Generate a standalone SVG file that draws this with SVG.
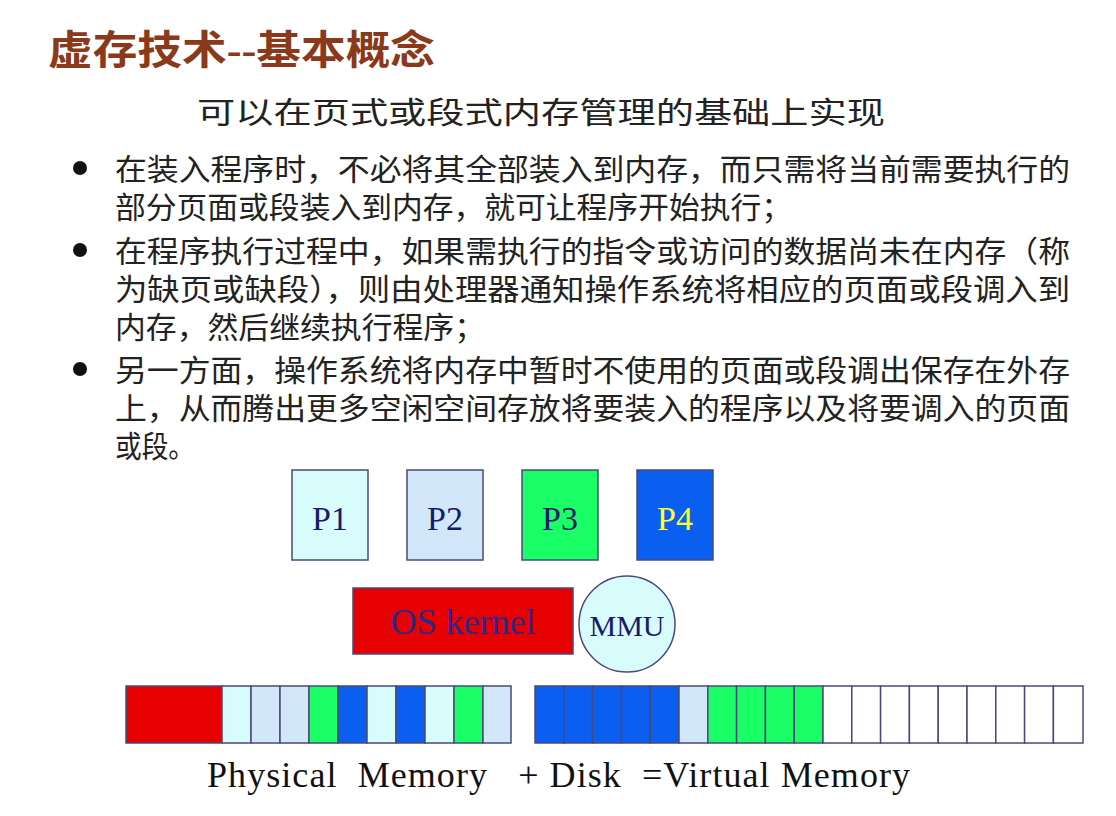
<svg xmlns="http://www.w3.org/2000/svg" width="1116" height="816" viewBox="0 0 1116 816">
<style>
.cn{font-family:"Liberation Sans","Noto Sans CJK SC",sans-serif;font-size:30px;fill:#222}
.sr{font-family:"Liberation Serif",serif}
.c{stroke:#4a4a7a;stroke-width:1.5}
.r{fill:#e60000}.lc{fill:#d8fcfc}.pb{fill:#d2e8fa}.g{fill:#1aff66}.b{fill:#0a5ef0}.w{fill:#fff}
</style>
<rect width="1116" height="816" fill="#fff"/>
<text x="48" y="64" font-family="'Liberation Serif','Noto Sans CJK SC',serif" font-size="40" font-weight="bold" fill="#8a3a1a" textLength="387" lengthAdjust="spacingAndGlyphs">虚存技术--基本概念</text>
<text x="197" y="123" class="cn" font-size="34" textLength="688" lengthAdjust="spacingAndGlyphs">可以在页式或段式内存管理的基础上实现</text>
<g class="cn">
<circle cx="80" cy="168" r="7" fill="#111"/>
<text x="115" y="180" textLength="955" lengthAdjust="spacingAndGlyphs">在装入程序时，不必将其全部装入到内存，而只需将当前需要执行的</text>
<text x="115" y="218" textLength="677" lengthAdjust="spacingAndGlyphs">部分页面或段装入到内存，就可让程序开始执行；</text>
<circle cx="80" cy="250" r="7" fill="#111"/>
<text x="115" y="262" textLength="955" lengthAdjust="spacingAndGlyphs">在程序执行过程中，如果需执行的指令或访问的数据尚未在内存（称</text>
<text x="115" y="300" textLength="955" lengthAdjust="spacingAndGlyphs">为缺页或缺段），则由处理器通知操作系统将相应的页面或段调入到</text>
<text x="115" y="338" textLength="370" lengthAdjust="spacingAndGlyphs">内存，然后继续执行程序；</text>
<circle cx="80" cy="369" r="7" fill="#111"/>
<text x="115" y="381" textLength="955" lengthAdjust="spacingAndGlyphs">另一方面，操作系统将内存中暂时不使用的页面或段调出保存在外存</text>
<text x="115" y="419" textLength="955" lengthAdjust="spacingAndGlyphs">上，从而腾出更多空闲空间存放将要装入的程序以及将要调入的页面</text>
<text x="115" y="457" textLength="80" lengthAdjust="spacingAndGlyphs">或段。</text>
</g>
<g id="p1"><rect x="292" y="470" width="76" height="90" class="c lc"/><text x="330" y="530" class="sr" font-size="34" fill="#1a1a6a" text-anchor="middle">P1</text></g>
<g id="p2"><rect x="407" y="470" width="76" height="90" class="c pb"/><text x="445" y="530" class="sr" font-size="34" fill="#1a1a6a" text-anchor="middle">P2</text></g>
<g id="p3"><rect x="522" y="470" width="76" height="90" class="c g"/><text x="560" y="530" class="sr" font-size="34" fill="#1a1a6a" text-anchor="middle">P3</text></g>
<g id="p4"><rect x="637" y="470" width="76" height="90" class="c b"/><text x="675" y="530" class="sr" font-size="34" fill="#ffff33" text-anchor="middle">P4</text></g>
<g id="os"><rect x="353" y="588" width="220" height="66" class="c r"/><text x="463" y="634" class="sr" font-size="36" fill="#2a2a8a" text-anchor="middle">OS kernel</text></g>
<g id="mmu"><circle cx="627" cy="624" r="48" class="c lc"/><text x="627" y="636" class="sr" font-size="30" fill="#1a1a6a" text-anchor="middle">MMU</text></g>
<g id="phys">
<rect x="126" y="686" width="96" height="57" class="c r"/>
<rect x="222" y="686" width="29" height="57" class="c lc"/>
<rect x="251" y="686" width="29" height="57" class="c pb"/>
<rect x="280" y="686" width="29" height="57" class="c pb"/>
<rect x="309" y="686" width="29" height="57" class="c g"/>
<rect x="338" y="686" width="29" height="57" class="c b"/>
<rect x="367" y="686" width="29" height="57" class="c lc"/>
<rect x="396" y="686" width="29" height="57" class="c b"/>
<rect x="425" y="686" width="29" height="57" class="c lc"/>
<rect x="454" y="686" width="29" height="57" class="c g"/>
<rect x="483" y="686" width="28" height="57" class="c pb"/>
</g>
<g id="disk">
<rect x="535" y="686" width="28.8" height="57" class="c b"/>
<rect x="563.8" y="686" width="28.8" height="57" class="c b"/>
<rect x="592.6" y="686" width="28.8" height="57" class="c b"/>
<rect x="621.4" y="686" width="28.8" height="57" class="c b"/>
<rect x="650.2" y="686" width="28.8" height="57" class="c b"/>
<rect x="679" y="686" width="28.8" height="57" class="c pb"/>
<rect x="707.8" y="686" width="28.8" height="57" class="c g"/>
<rect x="736.6" y="686" width="28.8" height="57" class="c g"/>
<rect x="765.4" y="686" width="28.8" height="57" class="c g"/>
<rect x="794.2" y="686" width="28.8" height="57" class="c g"/>
<rect x="823" y="686" width="28.8" height="57" class="c w"/>
<rect x="851.8" y="686" width="28.8" height="57" class="c w"/>
<rect x="880.6" y="686" width="28.8" height="57" class="c w"/>
<rect x="909.4" y="686" width="28.8" height="57" class="c w"/>
<rect x="938.2" y="686" width="28.8" height="57" class="c w"/>
<rect x="967" y="686" width="28.8" height="57" class="c w"/>
<rect x="995.8" y="686" width="28.8" height="57" class="c w"/>
<rect x="1024.6" y="686" width="28.8" height="57" class="c w"/>
<rect x="1053.4" y="686" width="29.6" height="57" class="c w"/>
</g>
<text x="207" y="787" class="sr" font-size="36" fill="#111" xml:space="preserve" textLength="703" lengthAdjust="spacing">Physical  Memory   + Disk  =Virtual Memory</text>
</svg>
